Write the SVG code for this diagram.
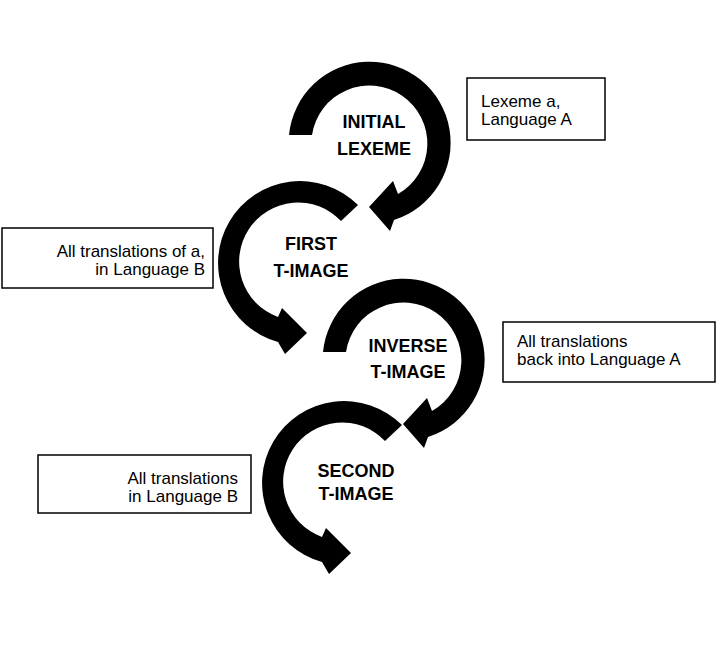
<svg xmlns="http://www.w3.org/2000/svg" width="719" height="670" viewBox="0 0 719 670">
<defs>
<style>
.arrow{fill:#000;stroke:none}
.lbl{font-family:"Liberation Sans",Arial,sans-serif;font-weight:bold;font-size:18px;fill:#000;text-anchor:middle}
.box{fill:#fff;stroke:#000;stroke-width:1.5}
.bt{font-family:"Liberation Sans",Arial,sans-serif;font-size:17px;fill:#000}
</style>
<path id="cw" d="M289,135 A81,81 0 1 1 394,220 L390,231 L369,207 L393,181 L398,194 A58,58 0 1 0 312,135 Z"/>
<path id="ccw" d="M358,205 A82,82 0 1 0 278,342 L285,354 L307,333 L282,308 L278,317 A59,59 0 1 1 341,221 Z"/>
</defs>
<rect width="719" height="670" fill="#fff"/>
<g id="connectors">
<use href="#cw" class="arrow"/>
<use href="#ccw" class="arrow"/>
<use href="#cw" class="arrow" transform="translate(34,217)"/>
<use href="#ccw" class="arrow" transform="translate(44,220)"/>
</g>
<g id="initial-lexeme">
<text class="lbl" x="374" y="128">INITIAL</text>
<text class="lbl" x="374" y="155">LEXEME</text>
</g>
<g id="first-t-image">
<text class="lbl" x="311" y="250">FIRST</text>
<text class="lbl" x="311" y="277">T-IMAGE</text>
</g>
<g id="inverse-t-image">
<text class="lbl" x="408" y="352">INVERSE</text>
<text class="lbl" x="408" y="378">T-IMAGE</text>
</g>
<g id="second-t-image">
<text class="lbl" x="356" y="477">SECOND</text>
<text class="lbl" x="356" y="500">T-IMAGE</text>
</g>
<g id="box-lexeme">
<rect class="box" x="467" y="78" width="138" height="62"/>
<text class="bt" x="481" y="107">Lexeme a,</text>
<text class="bt" x="481" y="125">Language A</text>
</g>
<g id="box-first">
<rect class="box" x="2" y="228" width="211" height="60"/>
<text class="bt" x="205" y="257" text-anchor="end">All translations of a,</text>
<text class="bt" x="205" y="275" text-anchor="end">in Language B</text>
</g>
<g id="box-inverse">
<rect class="box" x="503" y="322" width="212" height="60"/>
<text class="bt" x="517" y="347">All translations</text>
<text class="bt" x="517" y="365">back into Language A</text>
</g>
<g id="box-second">
<rect class="box" x="38" y="455" width="213" height="58"/>
<text class="bt" x="238" y="484" text-anchor="end">All translations</text>
<text class="bt" x="238" y="502" text-anchor="end">in Language B</text>
</g>
</svg>
